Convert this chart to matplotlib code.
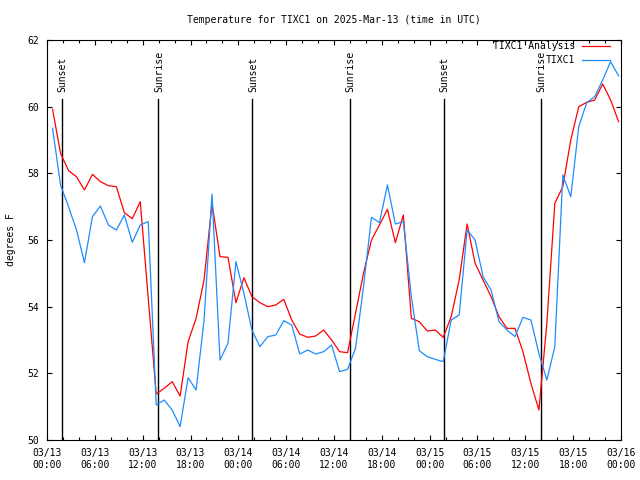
import matplotlib
matplotlib.use("Agg")
import matplotlib.pyplot as plt
import numpy as np

# hours since 2025-03-13 00:00 UTC (hourly obs at about :42)
hours = np.arange(72) + 0.7

analysis = [59.92, 58.6, 58.08, 57.9, 57.5, 57.97, 57.75, 57.63, 57.6, 56.82,
            56.64, 57.15, 54.25, 51.38, 51.55, 51.75, 51.32, 52.95, 53.65, 54.8,
            57.1, 55.5, 55.48, 54.12, 54.87, 54.3, 54.12, 54.0, 54.05, 54.22,
            53.6, 53.18, 53.08, 53.12, 53.3, 53.0, 52.65, 52.62, 53.8, 55.0,
            56.0, 56.45, 56.92, 55.92, 56.75, 53.65, 53.55, 53.27, 53.3, 53.08,
            53.7, 54.8, 56.48, 55.3, 54.8, 54.3, 53.7, 53.35, 53.35, 52.65,
            51.7, 50.9, 53.5, 57.1, 57.6, 59.0, 60.0, 60.13, 60.2, 60.68,
            60.2, 59.55]

observed = [59.35, 57.65, 57.0, 56.3, 55.32, 56.7, 57.02, 56.45, 56.3, 56.75,
            55.93, 56.45, 56.55, 51.05, 51.2, 50.9, 50.4, 51.87, 51.5, 53.6,
            57.38, 52.4, 52.9, 55.35, 54.4, 53.3, 52.8, 53.1, 53.15, 53.58,
            53.45, 52.58, 52.7, 52.58, 52.65, 52.85, 52.05, 52.12, 52.75, 54.6,
            56.68, 56.52, 57.65, 56.48, 56.55, 54.3, 52.68, 52.5, 52.42, 52.35,
            53.6, 53.75, 56.3, 56.0, 54.9, 54.5, 53.55, 53.3, 53.1, 53.68,
            53.6, 52.6, 51.8, 52.8, 57.95, 57.3, 59.4, 60.12, 60.3, 60.8,
            61.35, 60.92]

sun_times = [1.85, 13.95, 25.75, 38.0, 49.8, 61.95]
sun_labels = ["Sunset", "Sunrise", "Sunset", "Sunrise", "Sunset", "Sunrise"]

tick_hours = list(range(0, 73, 6))
tick_labels = ["03/13\n00:00", "03/13\n06:00", "03/13\n12:00", "03/13\n18:00",
               "03/14\n00:00", "03/14\n06:00", "03/14\n12:00", "03/14\n18:00",
               "03/15\n00:00", "03/15\n06:00", "03/15\n12:00", "03/15\n18:00",
               "03/16\n00:00"]

plt.rcParams['font.family'] = 'DejaVu Sans Mono'
plt.rcParams['font.size'] = 7

fig = plt.figure(figsize=(6.4, 4.8), dpi=100)
ax = fig.add_axes([47/640, 40/480, 574/640, 400/480])

for t, lab in zip(sun_times, sun_labels):
    ax.plot([t, t], [50, 60.23], color='black', lw=1.0)
    ax.text(t + 0.1, 60.45, lab, rotation=90, ha='center', va='bottom', fontsize=7)

ax.plot(hours, analysis, color='#ff0000', lw=0.9, label='TIXC1 Analysis')
ax.plot(hours, observed, color='#1e8cff', lw=0.9, label='TIXC1')

ax.set_xlim(0, 72)
ax.set_ylim(50, 62)
ax.set_xticks(tick_hours)
ax.set_xticklabels(tick_labels)
ax.set_xticks(range(0, 73, 2), minor=True)
ax.set_yticks(range(50, 63, 2))
ax.tick_params(which='both', direction='in', top=True, right=True, width=0.8)
ax.tick_params(which='major', length=3.5, pad=6)
ax.tick_params(which='minor', length=2.5)
for s in ax.spines.values():
    s.set_linewidth(0.8)

ax.set_ylabel('degrees F', labelpad=8)
ax.set_title('Temperature for TIXC1 on 2025-Mar-13 (time in UTC)', fontsize=7, pad=12)

ax.legend(loc='upper right', bbox_to_anchor=(1 - 11/574, 1 - 1/400), frameon=False,
          markerfirst=False, borderpad=0, borderaxespad=0, handlelength=2.9,
          handletextpad=0.7, labelspacing=0.45, fontsize=7)

fig.savefig('out.png', dpi=100)
